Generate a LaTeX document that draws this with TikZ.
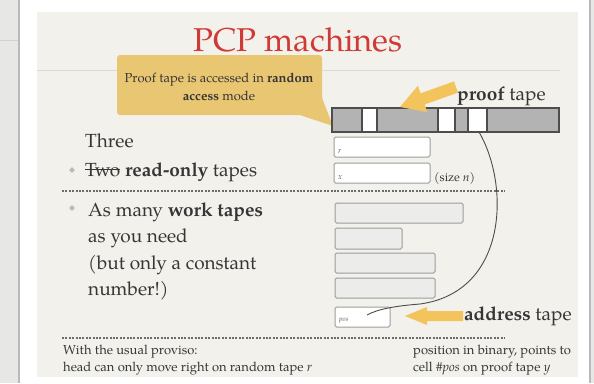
\documentclass[tikz,border=0pt]{standalone}
\usepackage{fontspec}
\setmainfont{TeX Gyre Pagella}
\usetikzlibrary{shapes.geometric}
\definecolor{slidebg}{HTML}{F2F1EC}
\definecolor{stripbg}{HTML}{E7E7E5}
\definecolor{titlered}{HTML}{D03A36}
\definecolor{txt}{HTML}{363636}
\definecolor{callout}{HTML}{E8C672}
\definecolor{arrowy}{HTML}{F3C45C}
\definecolor{tapegray}{HTML}{B3B3B3}
\definecolor{tapeline}{HTML}{4D4D4D}
\definecolor{boxline}{HTML}{9C9C9C}
\definecolor{workfill}{HTML}{ECECEA}
\newcommand\mystrike[1]{{\setbox0\hbox{#1}\rlap{\rule[0.3em]{\wd0}{0.06em}}\box0}}
\tikzset{
  bodytext/.style={anchor=base west, inner sep=0, text=txt, font=\fontsize{19}{23}\selectfont},
  smalltext/.style={anchor=base west, inner sep=0, text=txt, font=\fontsize{13}{15}\selectfont},
  calltext/.style={anchor=base, inner sep=0, text=txt, font=\fontsize{13}{16}\selectfont},
  tapelabel/.style={anchor=base west, inner sep=0, text=txt!80, font=\fontsize{8}{9}\selectfont\itshape},
  bulletmark/.style={diamond, fill=gray!55, inner sep=0, minimum size=6pt},
  tapebox/.style={draw=boxline, line width=1pt, rounded corners=1.5pt, fill=white},
  workbox/.style={draw=boxline, line width=1pt, rounded corners=1.5pt, fill=workfill},
  sepline/.style={draw=gray!85!black, line width=1.1pt, dash pattern=on 2pt off 1.4pt},
  bigarrow/.style={fill=arrowy},
}
\begin{document}
\begin{tikzpicture}[x=1pt,y=-1pt]
\useasboundingbox (0,0) rectangle (594,383);
% screen background
\fill[white] (0,0) rectangle (594,383);
\fill[stripbg] (0,0) rectangle (18,383);
\draw[gray!55, line width=1.5pt] (19,0) -- (19,383);
\draw[gray!35, line width=0.8pt] (0,40) -- (18,40);
\fill[slidebg] (37,12) rectangle (578,377);
\draw[gray!55, line width=1.2pt] (590,0) -- (590,383);
\fill[stripbg] (591,0) rectangle (594,383);
% title
\node[anchor=base, inner sep=0, text=titlered, font=\fontsize{33}{36}\selectfont] (title) at (298,51) {PCP machines};
\draw[gray!30, line width=0.7pt] (37,70) -- (560,70);
% callout
\fill[callout, rounded corners=3pt] (117,55) -- (322,55) -- (322,98) [sharp corners] -- (333,126) -- (300,115) [rounded corners=3pt] -- (117,115) -- cycle;
\node[calltext] (call1) at (219,82) {Proof tape is accessed in \textbf{random}};
\node[calltext] (call2) at (219,100) {\textbf{access} mode};
% proof tape
\fill[tapegray] (332,108) rectangle (559,132);
\foreach \a/\b in {362/377,438/455,468/487} \fill[white] (\a,108) rectangle (\b,132);
\foreach \xx in {362,377,438,455,468,487} \draw[tapeline, line width=1.6pt] (\xx,108) -- (\xx,132);
\draw[tapeline, line width=1.8pt] (332,108) rectangle (559,132);
\coordinate (cellc) at (479,132);
\node[bodytext] (plabel) at (457,100) {\textbf{proof} tape};
\fill[bigarrow] (454,81.4) -- (420.6,93.3) -- (417.9,85.7) -- (400,107) -- (427.3,112.1) -- (424.6,104.5) -- (458,92.6) -- cycle;
% left texts
\node[bodytext] (three) at (85,147) {Three};
\node[bulletmark] (bul1) at (72,170) {};
\node[bodytext] (two) at (85,176) {\mystrike{Two} \textbf{read-only} tapes};
\draw[sepline] (62,191) -- (505,191);
\node[bulletmark] (bul2) at (72,208) {};
\node[bodytext] (l1) at (88,216) {As many \textbf{work tapes}};
\node[bodytext] (l2) at (88,242.5) {as you need};
\node[bodytext] (l3) at (88,269) {(but only a constant};
\node[bodytext] (l4) at (88,295.5) {number!)};
% read-only tapes
\draw[tapebox] (334,137) rectangle (430,157);
\node[tapelabel] (rlab) at (338,153) {r};
\draw[tapebox] (334,163) rectangle (430,183);
\node[tapelabel] (xlab) at (338,179) {x};
\node[smalltext, font=\fontsize{12}{14}\selectfont] (size) at (434,181) {(size \textit{n})};
% work tapes
\draw[workbox] (335,203) rectangle (463,223);
\draw[workbox] (335,228) rectangle (402,249);
\draw[workbox] (335,253) rectangle (435,273);
\draw[workbox] (335,278) rectangle (435,298);
% address tape
\draw[tapebox] (335,307) rectangle (390,327);
\node[tapelabel, font=\fontsize{7}{8}\selectfont\itshape] (poslab) at (339,321) {pos};
\coordinate (posend) at (367,315);
\draw[gray!60!black, line width=0.9pt] (cellc) .. controls (510,185) and (508,292) .. (420,304) .. controls (395,306) and (378,309) .. (posend);
\fill[bigarrow] (463,311) -- (427,311) -- (427,307) -- (405,316) -- (427,325) -- (427,321) -- (463,321) -- cycle;
\node[bodytext] (alabel) at (464,320) {\textbf{address} tape};
% bottom
\draw[sepline] (62,338) -- (505,338);
\node[smalltext] (b1) at (63,354) {With the usual proviso:};
\node[smalltext] (b2) at (63,371) {head can only move right on random tape \textit{r}};
\node[smalltext] (b3) at (413,354) {position in binary, points to};
\node[smalltext] (b4) at (413,371) {cell \#\textit{pos} on proof tape \textit{y}};
\end{tikzpicture}
\end{document}
